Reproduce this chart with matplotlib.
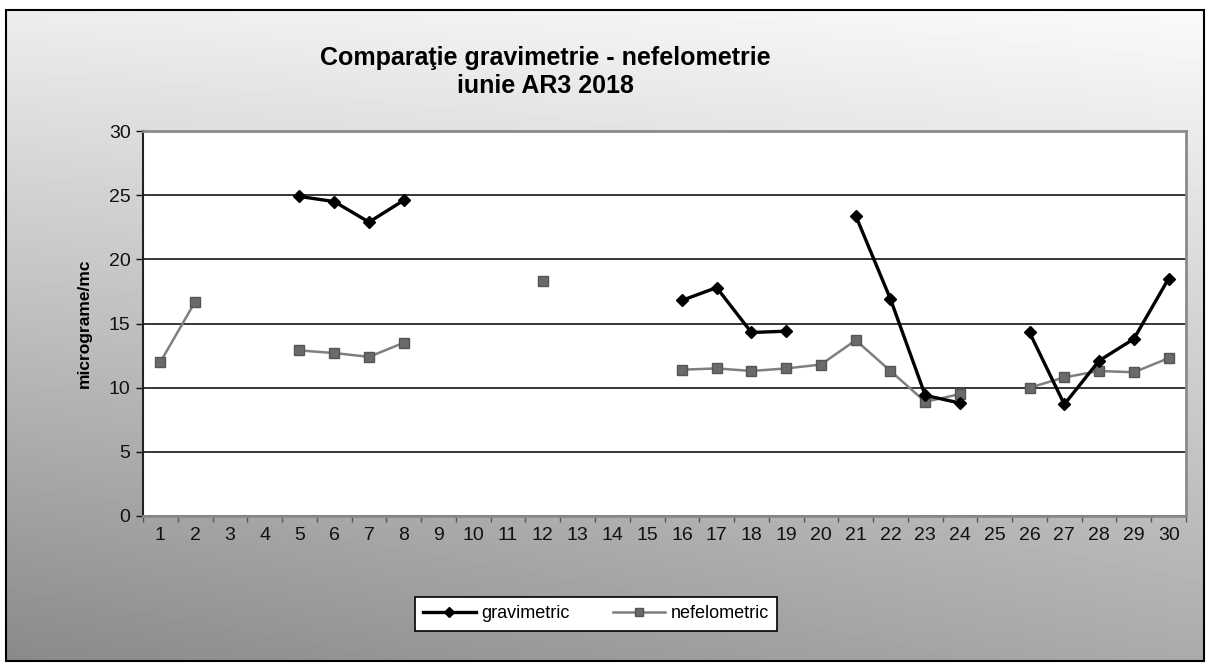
import numpy as np
import matplotlib
matplotlib.use("Agg")
import matplotlib.pyplot as plt
from matplotlib.patches import Rectangle

nan = np.nan

days = list(range(1, 31))
day_labels = [str(d) for d in days]

gravimetric = [nan, nan, nan, nan, 24.9, 24.5, 22.9, 24.6, nan, nan,
               nan, nan, nan, nan, nan, 16.8, 17.8, 14.3, 14.4, nan,
               23.4, 16.9, 9.4, 8.8, nan, 14.3, 8.7, 12.1, 13.8, 18.5]

nefelometric = [12.0, 16.7, nan, nan, 12.9, 12.7, 12.4, 13.5, nan, nan,
                nan, 18.3, nan, nan, nan, 11.4, 11.5, 11.3, 11.5, 11.8,
                13.7, 11.3, 8.9, 9.5, nan, 10.0, 10.8, 11.3, 11.2, 12.3]

y_ticks = [0, 5, 10, 15, 20, 25, 30]

W, H = 1213, 666
fig = plt.figure(figsize=(W / 100, H / 100), dpi=100)
fig.patch.set_facecolor("white")

# chart area: grey gradient, light top-right, dark bottom-left
x0, y0, x1, y1 = 6, 10, 1204, 661
bg = fig.add_axes([x0 / W, 1 - y1 / H, (x1 - x0) / W, (y1 - y0) / H], zorder=0)
xf, yf = np.meshgrid(np.linspace(0, 1, 300), np.linspace(1, 0, 200))
shade = 0.98 - 0.31 * (1 - yf) - 0.08 * (1 - yf) * (1 - xf) - 0.05 * (1 - xf)
bg.imshow(shade, cmap="gray", vmin=0, vmax=1, extent=[0, 1, 0, 1], aspect="auto")
bg.axis("off")
fig.patches.append(Rectangle((x0 / W, 1 - y1 / H), (x1 - x0) / W, (y1 - y0) / H,
                             transform=fig.transFigure, fill=False,
                             edgecolor="black", linewidth=1.5, zorder=5))

# plot area
left, right, top, bottom = 143, 1186, 131, 516
ax = fig.add_axes([left / W, 1 - bottom / H, (right - left) / W, (bottom - top) / H], zorder=2)
ax.set_facecolor("white")

x = np.array(days)
ax.plot(x, np.array(gravimetric), color="black", linewidth=2.4,
        marker="D", markersize=6, markerfacecolor="black", markeredgecolor="black",
        label="gravimetric", zorder=4)
ax.plot(x, np.array(nefelometric), color="#7f7f7f", linewidth=1.8,
        marker="s", markersize=6.5, markerfacecolor="#6a6a6a", markeredgecolor="#555555",
        label="nefelometric", zorder=3)

ax.set_xlim(0.5, 30.5)
ax.set_ylim(0, 30)
ax.set_yticks(y_ticks)
ax.yaxis.grid(True, color="black", linewidth=1.1)
ax.set_axisbelow(True)

ax.set_xticks(days)
ax.set_xticklabels(day_labels, fontsize=14, family="Liberation Sans")
ax.set_xticks(np.arange(0.5, 31, 1), minor=True)
ax.tick_params(axis="x", which="major", length=0, pad=8, colors="#111111")
ax.tick_params(axis="x", which="minor", length=4, width=1, color="#555555")
ax.tick_params(axis="y", length=5, width=1, pad=4, labelsize=14, colors="#111111")
for lab in ax.get_yticklabels():
    lab.set_family("Liberation Sans")

ax.spines["left"].set_color("#222222")
ax.spines["left"].set_linewidth(1.5)
for s in ["top", "right", "bottom"]:
    ax.spines[s].set_color("#8a8a8a")
    ax.spines[s].set_linewidth(2)

ax.set_ylabel("micrograme/mc", fontsize=12.5, fontweight="bold",
              family="Liberation Sans", labelpad=12)

fig.text(545 / W, 1 - 72 / H, "Comparaţie gravimetrie - nefelometrie\niunie AR3 2018",
         ha="center", va="center", fontsize=18, fontweight="bold",
         family="Liberation Sans", linespacing=1.2)

leg = ax.legend(loc="center", bbox_to_anchor=(596 / W, 1 - 614 / H),
                bbox_transform=fig.transFigure, ncol=2, frameon=True,
                fancybox=False, edgecolor="black", framealpha=1,
                prop={"family": "Liberation Sans", "size": 13},
                handlelength=2.9, columnspacing=2.4, borderpad=0.45,
                handletextpad=0.3, markerscale=0.8)
leg.get_frame().set_linewidth(1.2)

fig.savefig("out.png", dpi=100)
